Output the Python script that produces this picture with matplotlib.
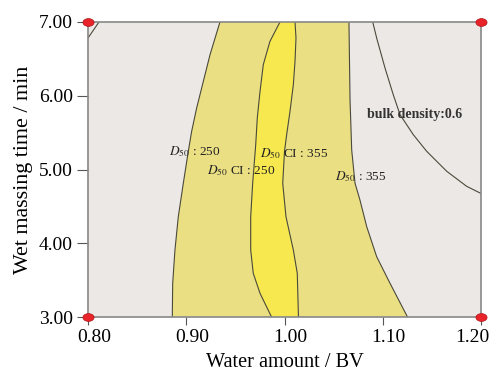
import numpy as np
import matplotlib
matplotlib.use("Agg")
import matplotlib.pyplot as plt
from matplotlib.path import Path
from matplotlib.transforms import Affine2D, ScaledTranslation

plt.rcParams['font.family'] = ['Liberation Serif', 'DejaVu Serif']
plt.rcParams['mathtext.fontset'] = 'stix'

# D50 = 250 contour (left edge of outer region)
d50_250_x = [0.9343, 0.9242, 0.9174, 0.9106, 0.9055, 0.9021, 0.8970, 0.8919, 0.8885, 0.8862, 0.8858]
d50_250_y = [7.000, 6.557, 6.196, 5.834, 5.518, 5.247, 4.813, 4.360, 3.908, 3.456, 3.000]
# D50 = 355 contour (right edge of outer region)
d50_355_x = [1.0656, 1.0667, 1.0684, 1.0718, 1.0768, 1.0837, 1.0938, 1.1074, 1.1252]
d50_355_y = [7.000, 5.942, 5.264, 4.813, 4.586, 4.224, 3.818, 3.457, 3.000]
# D50 CI = 250 contour (left edge of inner region)
ci_250_x = [0.9954, 0.9852, 0.9784, 0.9751, 0.9723, 0.9707, 0.9676, 0.9656, 0.9656, 0.9682, 0.9751, 0.9868]
ci_250_y = [7.000, 6.738, 6.421, 6.060, 5.698, 5.336, 4.813, 4.360, 3.908, 3.592, 3.321, 3.000]
# D50 CI = 355 contour (right edge of inner region)
ci_355_x = [1.0107, 1.0117, 1.0107, 1.0090, 1.0056, 1.0022, 1.0000, 0.9982, 1.0015, 1.0090, 1.0130, 1.0142]
ci_355_y = [7.000, 6.783, 6.467, 6.150, 5.789, 5.472, 5.247, 4.813, 4.360, 3.908, 3.592, 3.000]
# bulk density = 0.6 contour
bd_x = [1.0898, 1.0938, 1.1023, 1.1107, 1.1176, 1.1311, 1.1447, 1.1651, 1.1854, 1.2000]
bd_y = [7.000, 6.783, 6.376, 6.014, 5.743, 5.472, 5.247, 4.976, 4.772, 4.675]
# small contour in top-left corner
tl_x = [0.800, 0.8112]
tl_y = [6.783, 7.000]

xticks = [0.80, 0.90, 1.00, 1.10, 1.20]
yticks = [3.00, 4.00, 5.00, 6.00, 7.00]

bg = '#ECE8E6'
outer = '#EBDF84'
inner = '#F6E84E'
lc = '#4a4a3a'

fig = plt.figure(figsize=(4.91, 3.71), dpi=100)
ax = fig.add_axes([88/491, 1-317/371, (481-88)/491, (317-22)/371])
ax.set_facecolor(bg)
ax.set_xlim(0.80, 1.20)
ax.set_ylim(3.0, 7.0)

ax.fill(d50_250_x + d50_355_x[::-1], d50_250_y + d50_355_y[::-1], color=outer, lw=0)
ax.fill(ci_250_x + ci_355_x[::-1], ci_250_y + ci_355_y[::-1], color=inner, lw=0)
for xs, ys in ((d50_250_x, d50_250_y), (d50_355_x, d50_355_y),
               (ci_250_x, ci_250_y), (ci_355_x, ci_355_y),
               (bd_x, bd_y), (tl_x, tl_y)):
    ax.plot(xs, ys, color=lc, lw=0.8, solid_joinstyle='round')

fs = 9.6
tc = '#222222'
ax.text(0.9089, 5.237, r'$D_{50}$ : 250', fontsize=fs, ha='center', va='center', color=tc)
ax.text(0.9562, 4.980, r'$D_{50}$ CI : 250', fontsize=fs, ha='center', va='center', color=tc)
ax.text(1.0097, 5.210, r'$D_{50}$ CI : 355', fontsize=fs, ha='center', va='center', color=tc)
ax.text(1.0779, 4.898, r'$D_{50}$ : 355', fontsize=fs, ha='center', va='center', color=tc)
ax.text(1.1328, 5.739, 'bulk density:0.6', fontsize=10, fontweight='bold', ha='center', va='center', color='#333333')

# corner markers
ell = Path.unit_circle().transformed(Affine2D().scale(1.0, 0.7))
for cx in (0.80, 1.20):
    for cy in (3.0, 7.0):
        ax.plot([cx], [cy], marker=ell, ms=8, color='#e8242a', mec='#b01015', mew=0.5, clip_on=False, zorder=5)

for s in ax.spines.values():
    s.set_color('#888888')
    s.set_linewidth(1.2)
ax.tick_params(direction='out', width=0.8, color='#555555', labelsize=14)
ax.tick_params(axis='x', length=6, pad=3)
ax.tick_params(axis='y', length=8, pad=3)
ax.set_xticks(xticks)
ax.set_xticklabels([f'{v:.2f}' for v in xticks])
ax.set_yticks(yticks)
ax.set_yticklabels([f'{v:.2f}' for v in yticks])
xl = ax.get_xticklabels()
for i, lab in enumerate(xl):
    if i == len(xl) - 1:
        lab.set_transform(lab.get_transform() + ScaledTranslation(-0.085, 0, fig.dpi_scale_trans))
    else:
        lab.set_transform(lab.get_transform() + ScaledTranslation(0.06, 0, fig.dpi_scale_trans))
ax.set_xlabel('Water amount / BV', fontsize=14.6, labelpad=5)
ax.set_ylabel('Wet massing time / min', fontsize=15.8, labelpad=4)

fig.savefig('out.png', dpi=100)
